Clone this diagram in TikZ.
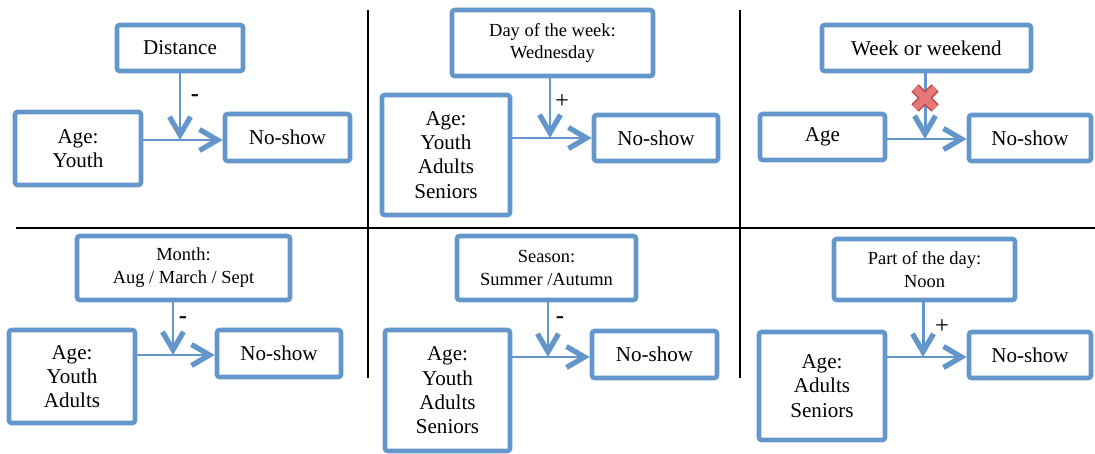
\documentclass[tikz,border=0pt]{standalone}
\usepackage{fontspec}
\setmainfont{Liberation Serif}
\usetikzlibrary{arrows.meta}
\definecolor{boxblue}{RGB}{99,151,203}
\definecolor{crossred}{RGB}{230,120,120}
\definecolor{crossedge}{RGB}{190,75,75}

\begin{document}
\begin{tikzpicture}
        \tikzstyle{box} = [rectangle, draw=boxblue, line width=2.6pt, rounded corners=1.5pt, align=center, font=\fontsize{12}{13.8}\selectfont, inner sep=2pt]
        \tikzstyle{small} = [font=\fontsize{10.5}{13}\selectfont]
        \tikzstyle{arrow} = [draw=boxblue, line width=1.7pt, -{Straight Barb[length=0.36cm, width=0.42cm, line width=3pt]}]
        \tikzstyle{rule} = [line width=1.1pt, black]
        \tikzstyle{sign} = [font=\fontsize{14}{14}\selectfont, inner sep=0pt]

                \useasboundingbox (0,0) rectangle (21.9,-9.06);

                % lines between the panels
                \draw[rule] (0.32,-4.56) -- (21.9,-4.56);
                \draw[rule] (7.36,-0.2) -- (7.36,-7.56);
                \draw[rule] (14.8,-0.2) -- (14.8,-7.56);

                % distance
                \node (dist) [box, minimum width=2.52cm, minimum height=0.92cm] at (3.6,-0.96) {Distance};
                \node (age1) [box, minimum width=2.52cm, minimum height=1.46cm] at (1.56,-2.97) {Age:\\Youth};
                \node (ns1) [box, minimum width=2.5cm, minimum height=0.94cm] at (5.75,-2.75) {No-show};
                \coordinate (j1) at (3.6,-2.8);
                \draw[arrow] (age1.east |- j1) -- (ns1.west |- j1);
                \draw[arrow] (dist.south -| j1) -- (j1);
                \node (s1) [sign] at (3.9,-1.96) {\bfseries -};

                % day of the week
                \node (day) [box, small, minimum width=4.02cm, minimum height=1.32cm] at (11.05,-0.86) {Day of the week:\\Wednesday};
                \node (age2) [box, minimum width=2.56cm, minimum height=2.4cm] at (8.92,-3.1) {Age:\\Youth\\Adults\\Seniors};
                \node (ns2) [box, minimum width=2.48cm, minimum height=0.92cm] at (13.12,-2.76) {No-show};
                \coordinate (j2) at (11.0,-2.76);
                \draw[arrow] (age2.east |- j2) -- (ns2.west |- j2);
                \draw[arrow] (day.south -| j2) -- (j2);
                \node (s2) [sign] at (11.24,-2.04) {+};

                % week or weekend
                \node (week) [box, minimum width=4.18cm, minimum height=0.92cm] at (18.53,-0.96) {Week or weekend};
                \node (age3) [box, minimum width=2.5cm, minimum height=0.92cm] at (16.45,-2.74) {Age};
                \node (ns3) [box, minimum width=2.44cm, minimum height=0.92cm] at (20.6,-2.76) {No-show};
                \coordinate (j3) at (18.5,-2.78);
                \draw[arrow] (age3.east |- j3) -- (ns3.west |- j3);
                \draw[arrow] (week.south -| j3) -- (j3);
                \draw[line width=6pt, crossedge] (18.3,-1.76) -- (18.7,-2.16) (18.3,-2.16) -- (18.7,-1.76);
                \draw[line width=4.2pt, crossred] (18.3,-1.76) -- (18.7,-2.16) (18.3,-2.16) -- (18.7,-1.76);

                % month
                \node (month) [box, small, minimum width=4.26cm, minimum height=1.28cm] at (3.67,-5.36) {Month:\\Aug / March / Sept};
                \node (age4) [box, minimum width=2.52cm, minimum height=1.86cm] at (1.44,-7.53) {Age:\\Youth\\Adults};
                \node (ns4) [box, minimum width=2.48cm, minimum height=0.94cm] at (5.58,-7.07) {No-show};
                \coordinate (j4) at (3.46,-7.1);
                \draw[arrow] (age4.east |- j4) -- (ns4.west |- j4);
                \draw[arrow] (month.south -| j4) -- (j4);
                \node (s4) [sign] at (3.66,-6.4) {\bfseries -};

                % season
                \node (season) [box, small, minimum width=3.58cm, minimum height=1.28cm] at (10.93,-5.36) {Season:\\Summer /Autumn};
                \node (age5) [box, minimum width=2.5cm, minimum height=2.42cm] at (8.95,-7.81) {Age:\\Youth\\Adults\\Seniors};
                \node (ns5) [box, minimum width=2.5cm, minimum height=0.94cm] at (13.09,-7.09) {No-show};
                \coordinate (j5) at (10.96,-7.14);
                \draw[arrow] (age5.east |- j5) -- (ns5.west |- j5);
                \draw[arrow] (season.south -| j5) -- (j5);
                \node (s5) [sign] at (11.2,-6.4) {\bfseries -};

                % part of the day
                \node (part) [box, small, minimum width=3.62cm, minimum height=1.22cm] at (18.49,-5.39) {Part of the day:\\Noon};
                \node (age6) [box, minimum width=2.52cm, minimum height=2.16cm] at (16.44,-7.72) {Age:\\Adults\\Seniors};
                \node (ns6) [box, minimum width=2.44cm, minimum height=0.92cm] at (20.6,-7.1) {No-show};
                \coordinate (j6) at (18.46,-7.14);
                \draw[arrow] (age6.east |- j6) -- (ns6.west |- j6);
                \draw[arrow] (part.south -| j6) -- (j6);
                \node (s6) [sign] at (18.84,-6.54) {+};
    \end{tikzpicture}
\end{document}
